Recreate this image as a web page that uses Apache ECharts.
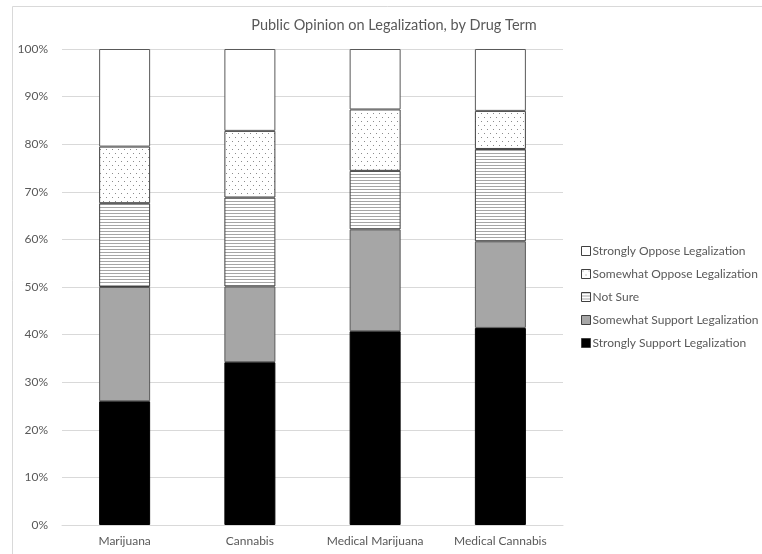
<!DOCTYPE html>
<html>
<head>
<meta charset="utf-8">
<script src="https://cdn.jsdelivr.net/npm/echarts@6/dist/echarts.min.js"></script>
<style>html,body{margin:0;padding:0;background:#fff;}#c{width:762px;height:554px;}</style>
</head>
<body>
<div id="c"></div>
<script>
const categories = ['Marijuana', 'Cannabis', 'Medical Marijuana', 'Medical Cannabis'];
const stronglySupport = [26.0, 34.2, 40.7, 41.4];
const somewhatSupport = [24.0, 15.9, 21.4, 18.2];
const notSure = [17.6, 18.7, 12.3, 19.4];
const somewhatOppose = [11.9, 14.0, 12.9, 8.0];
const stronglyOppose = [20.5, 17.2, 12.7, 13.0];
const seriesNames = ['Strongly Support Legalization', 'Somewhat Support Legalization', 'Not Sure', 'Somewhat Oppose Legalization', 'Strongly Oppose Legalization'];
const yTicks = [0, 10, 20, 30, 40, 50, 60, 70, 80, 90, 100];

function dotCanvas() {
  const c = document.createElement('canvas');
  c.width = 6; c.height = 8;
  const g = c.getContext('2d');
  g.fillStyle = '#fff'; g.fillRect(0, 0, 6, 8);
  g.fillStyle = '#8c8c8c';
  g.fillRect(1, 1, 1, 1);
  g.fillRect(4, 5, 1, 1);
  return c;
}
function lineCanvas() {
  const c = document.createElement('canvas');
  c.width = 4; c.height = 3;
  const g = c.getContext('2d');
  g.fillStyle = '#fff'; g.fillRect(0, 0, 4, 3);
  g.fillStyle = '#a6a6a6';
  g.fillRect(0, 0, 4, 1);
  return c;
}
const dotPattern = { image: dotCanvas(), repeat: 'repeat' };
const linePattern = { image: lineCanvas(), repeat: 'repeat' };

const fills = ['#000000', '#a6a6a6', linePattern, dotPattern, '#ffffff'];
const borders = ['#000000', '#595959', '#404040', '#404040', '#595959'];
const dataSets = [stronglySupport, somewhatSupport, notSure, somewhatOppose, stronglyOppose];

const FONT = 'Lato';
const chart = echarts.init(document.getElementById('c'), null, { renderer: 'canvas' });
chart.setOption({
  animation: false,
  backgroundColor: '#fff',
  graphic: [{
    type: 'rect', shape: { x: 12.5, y: 6.5, width: 760, height: 560 },
    style: { fill: 'none', stroke: '#d9d9d9', lineWidth: 1 }, silent: true
  }],
  title: {
    text: 'Public Opinion on Legalization, by Drug Term',
    left: 389, top: 13, textAlign: 'center',
    textStyle: { fontFamily: FONT, fontSize: 14.5, fontWeight: 'normal', color: '#595959' }
  },
  legend: {
    orient: 'vertical',
    left: 576, top: 240,
    itemWidth: 9, itemHeight: 9, itemGap: 11,
    icon: 'rect',
    data: seriesNames.slice().reverse(),
    textStyle: { fontFamily: FONT, fontSize: 12, color: '#595959', padding: [0, 0, 0, -3] },
    itemStyle: { borderWidth: 1, borderColor: '#404040' }
  },
  grid: { left: 62, right: 199, top: 49, bottom: 29, containLabel: false },
  xAxis: {
    type: 'category', data: categories,
    axisLine: { lineStyle: { color: '#d9d9d9' } },
    axisTick: { show: false },
    axisLabel: { interval: 0, fontFamily: FONT, fontSize: 12, color: '#595959', margin: 10 }
  },
  yAxis: {
    type: 'value', min: yTicks[0], max: yTicks[yTicks.length - 1], interval: 10,
    axisLine: { show: false }, axisTick: { show: false },
    splitLine: { lineStyle: { color: '#d9d9d9' } },
    axisLabel: { fontFamily: FONT, fontSize: 12, color: '#595959', margin: 14, formatter: '{value}%' }
  },
  series: dataSets.map((d, i) => ({
    name: seriesNames[i], type: 'bar', stack: 'total',
    barWidth: 51,
    data: d,
    itemStyle: { color: fills[i], borderColor: borders[i], borderWidth: 1 }
  }))
});
</script>
</body>
</html>
